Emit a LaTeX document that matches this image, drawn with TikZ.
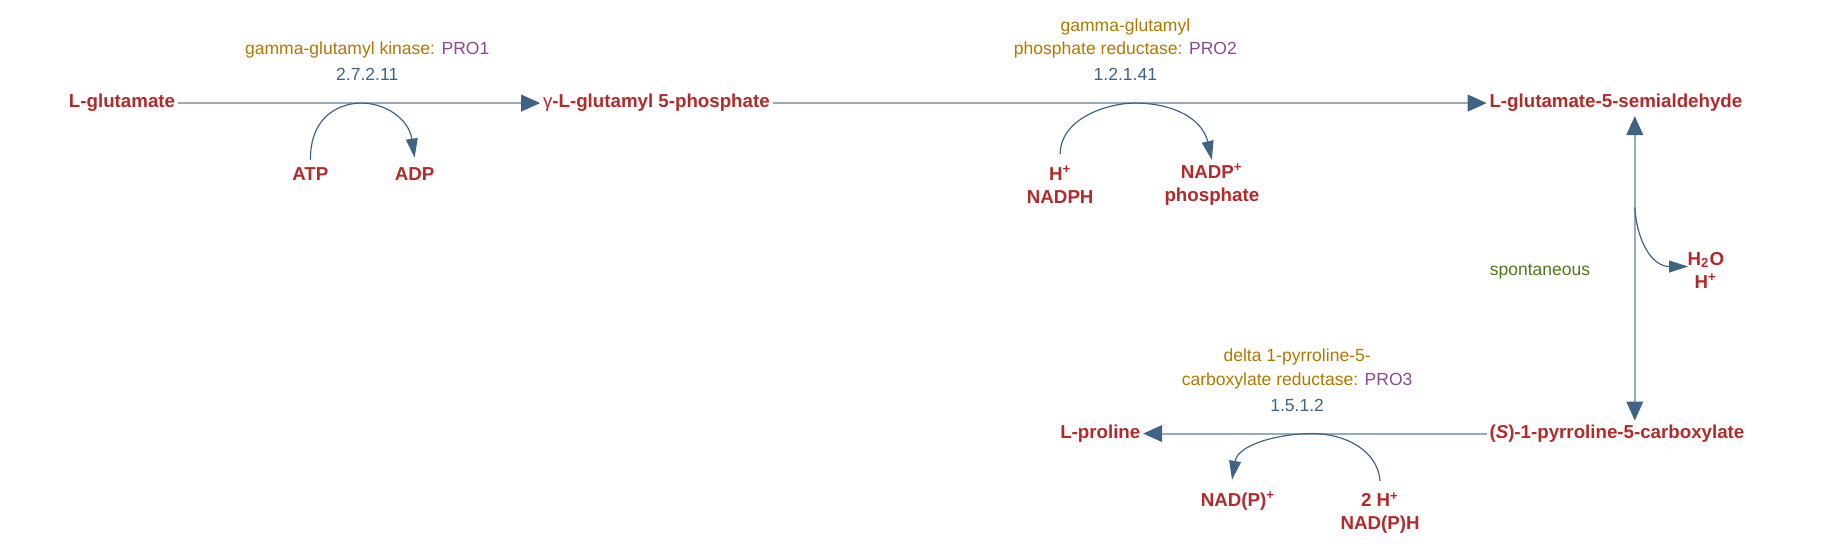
\documentclass[tikz,border=0pt]{standalone}
\usepackage{fontspec}
\setmainfont{Liberation Sans}
\usetikzlibrary{arrows.meta}
\definecolor{cpd}{HTML}{B22A2A}
\definecolor{enz}{HTML}{B07800}
\definecolor{gene}{HTML}{8A4A90}
\definecolor{ec}{HTML}{3F6384}
\definecolor{ln}{HTML}{94AAC0}
\definecolor{sp}{HTML}{4E7A10}
\begin{document}
\begin{tikzpicture}[x=0.5pt,y=-0.5pt,
  cpd/.style={text=cpd,font=\bfseries\fontsize{7.9}{9.6}\selectfont,inner sep=1pt,align=center},
  lbl/.style={font=\fontsize{7.4}{10}\selectfont,inner sep=0pt,align=center},
  main/.style={draw=ln,line width=0.8pt,-{Triangle[length=8pt,width=7pt,color=ec]}},
  side/.style={draw=ec,line width=0.5pt,-{Triangle[length=8pt,width=5pt,color=ec]}}]
\useasboundingbox (0,0) rectangle (1560,461);
% compounds
\node[cpd] (glu) at (103,87) {L-glutamate};
\node[cpd,anchor=west] (gp) at (456,87) {\textcolor{cpd}{\mdseries γ}-L-glutamyl 5-phosphate};
\node[cpd,anchor=west] (gsa) at (1255,87) {L-glutamate-5-semialdehyde};
\node[cpd,anchor=west] (p5c) at (1255,366) {(\textit{S})-1-pyrroline-5-carboxylate};
\node[cpd,anchor=east] (pro) at (965,366) {L-proline};
\node[cpd] (atp) at (262,147) {ATP};
\node[cpd] (adp) at (350,147) {ADP};
\node[cpd] (h1) at (895,156) {H\textsuperscript{+}\\NADPH};
\node[cpd] (nadp) at (1023,156) {NADP\textsuperscript{+}\\phosphate};
\node[cpd] (h2o) at (1440,228) {H\textsubscript{2}O\\H\textsuperscript{+}};
\node[cpd] (nadpp) at (1045,423) {NAD(P)\textsuperscript{+}};
\node[cpd] (nadph) at (1165,433) {2 H\textsuperscript{+}\\NAD(P)H};
% labels
\node[lbl] (e1) at (310,52) {\textcolor{enz}{gamma-glutamyl kinase:} \textcolor{gene}{PRO1}\\[1pt]\textcolor{ec}{2.7.2.11}};
\node[lbl] (e2) at (950,42) {\textcolor{enz}{gamma-glutamyl}\\\textcolor{enz}{phosphate reductase:} \textcolor{gene}{PRO2}\\[1pt]\textcolor{ec}{1.2.1.41}};
\node[lbl] (e3) at (1095,321) {\textcolor{enz}{delta 1-pyrroline-5-}\\\textcolor{enz}{carboxylate reductase:} \textcolor{gene}{PRO3}\\[1pt]\textcolor{ec}{1.5.1.2}};
\node[lbl,text=sp] (sp) at (1300,229) {spontaneous};
% main reactions
\draw[main] (glu.east) -- (gp.west);
\draw[main] (gp.east) -- (gsa.west);
\draw[main] (p5c.west) -- (pro.east);
\draw[draw=ln,line width=0.8pt,{Triangle[length=8pt,width=7pt,color=ec]}-{Triangle[length=8pt,width=7pt,color=ec]}] (1380,98) -- (1380,355);
% side reactions
\draw[side] (262,135) .. controls (262,95) and (290,87) .. (305,87) .. controls (325,87) and (345,100) .. (350,133);
\draw[side] (895,130) .. controls (895,100) and (935,87) .. (958,87) .. controls (990,87) and (1015,100) .. (1023,135);
\draw[side] (1165,406) .. controls (1163,380) and (1135,366) .. (1108,366) .. controls (1080,366) and (1045,375) .. (1040,405);
\draw[side] (1380,175) .. controls (1382,205) and (1395,225) .. (1425,225);
\end{tikzpicture}
\end{document}
